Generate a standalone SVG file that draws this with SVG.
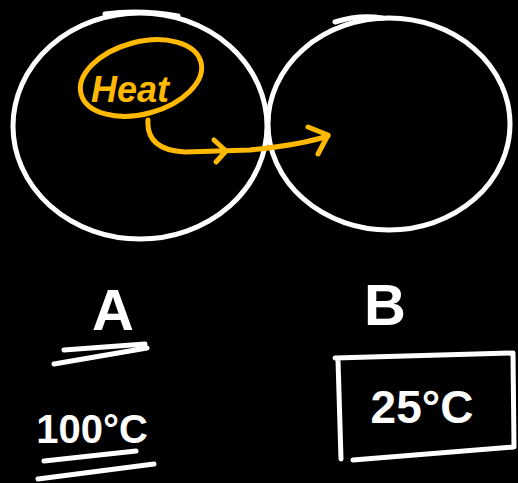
<svg xmlns="http://www.w3.org/2000/svg" width="518" height="483" viewBox="0 0 518 483">
<style>
.w{fill:none;stroke:#fff;stroke-width:5;stroke-linecap:round;stroke-linejoin:round}
.y{fill:none;stroke:#FFB900;stroke-width:5;stroke-linecap:round;stroke-linejoin:round}
.t{fill:#fff;font-family:"Liberation Sans",sans-serif;font-weight:bold}
</style>
<rect width="518" height="483" fill="#000"/>
<g id="circleA">
<ellipse class="w" cx="140" cy="126" rx="127" ry="113"/>
<path class="w" d="M105 14 Q140 9 178 16"/>
</g>
<g id="circleB">
<ellipse class="w" cx="389" cy="124" rx="121" ry="106"/>
<path class="w" d="M335 22 Q360 14 382 18"/>
</g>
<g id="heat">
<ellipse class="y" cx="141" cy="78" rx="62" ry="36" transform="rotate(-15 141 78)"/>
<text x="130" y="102" font-size="36" font-weight="bold" font-style="italic" fill="#FFB900" text-anchor="middle" font-family="Liberation Sans,sans-serif">Heat</text>
</g>
<g id="connectors">
<path class="y" d="M148 120 Q146 150 185 152 L250 150 Q300 145 328 136"/>
<path class="y" d="M214 140 L226 151 L216 162"/>
<path class="y" d="M308 127 L328 135 L318 154"/>
</g>
<g id="labelA">
<text class="t" x="113" y="330" font-size="58" text-anchor="middle">A</text>
<path class="w" d="M64 350 L145 344 M54 364 L147 348"/>
</g>
<g id="tempA">
<text class="t" x="92" y="443" font-size="40" text-anchor="middle">100°C</text>
<path class="w" d="M44 461 L136 451 M38 479 L154 464"/>
</g>
<g id="labelB">
<text class="t" x="385" y="325" font-size="58" text-anchor="middle">B</text>
</g>
<g id="tempB">
<path class="w" d="M335 358 L513 353 L514 447 L353 460 M338 360 L341 459"/>
<text class="t" x="422" y="423" font-size="46" text-anchor="middle">25°C</text>
</g>
</svg>
